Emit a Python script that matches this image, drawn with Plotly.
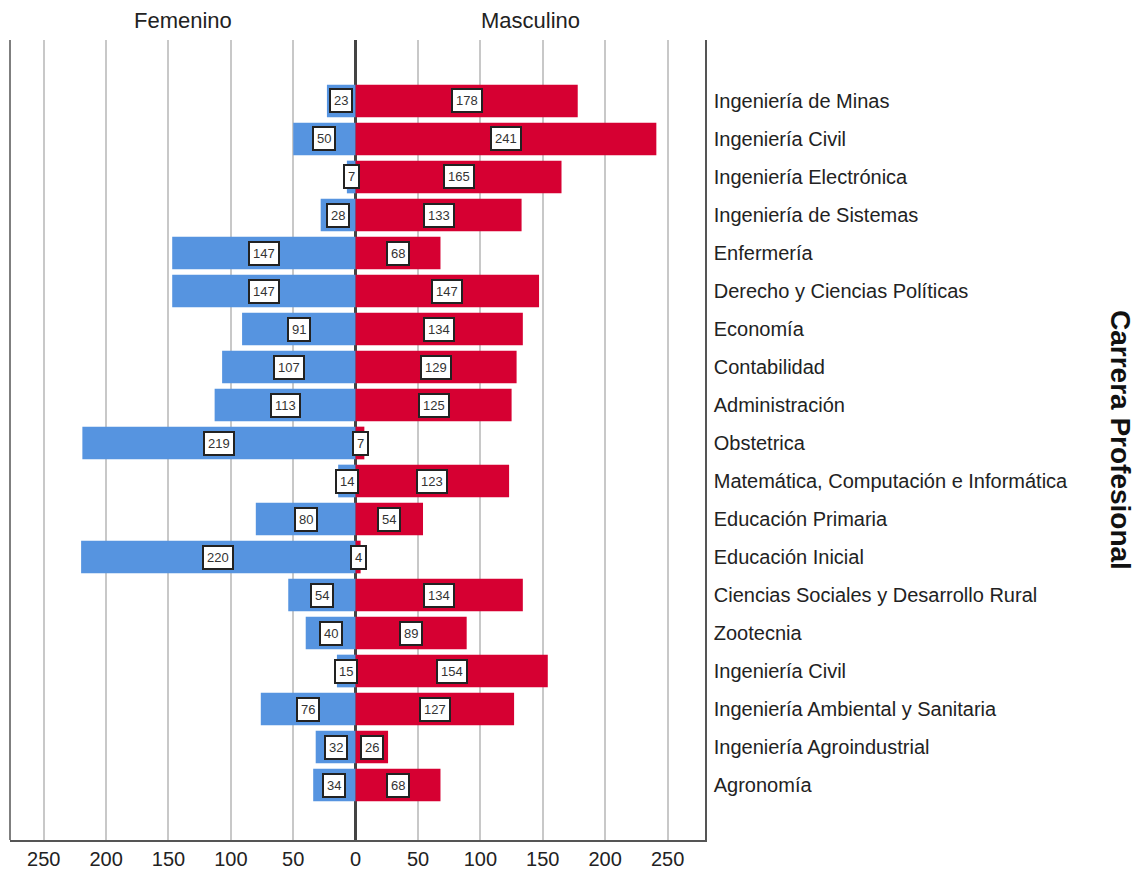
import plotly.graph_objects as go

categories = [
    "Ingeniería de Minas", "Ingeniería Civil", "Ingeniería Electrónica",
    "Ingeniería de Sistemas", "Enfermería", "Derecho y Ciencias Políticas",
    "Economía", "Contabilidad", "Administración", "Obstetrica",
    "Matemática, Computación e Informática", "Educación Primaria",
    "Educación Inicial", "Ciencias Sociales y Desarrollo Rural", "Zootecnia",
    "Ingeniería Civil", "Ingeniería Ambiental y Sanitaria",
    "Ingeniería Agroindustrial", "Agronomía",
]
femenino = [23, 50, 7, 28, 147, 147, 91, 107, 113, 219, 14, 80, 220, 54, 40, 15, 76, 32, 34]
masculino = [178, 241, 165, 133, 68, 147, 134, 129, 125, 7, 123, 54, 4, 134, 89, 154, 127, 26, 68]
tick_vals = [-250, -200, -150, -100, -50, 0, 50, 100, 150, 200, 250]
tick_text = ["250", "200", "150", "100", "50", "0", "50", "100", "150", "200", "250"]

BLUE = "#5694E0"
RED = "#D60032"
FONT = "Liberation Sans, Arial, sans-serif"

ypos = list(range(len(categories)))

fig = go.Figure()
fig.add_trace(go.Bar(
    y=ypos, x=[-v for v in femenino], orientation="h", name="Femenino",
    marker=dict(color=BLUE, line=dict(width=0)), width=0.86,
    hoverinfo="skip",
))
fig.add_trace(go.Bar(
    y=ypos, x=masculino, orientation="h", name="Masculino",
    marker=dict(color=RED, line=dict(width=0)), width=0.86,
    hoverinfo="skip",
))

annotations = []
for i, (f, m) in enumerate(zip(femenino, masculino)):
    for xv, v in ((-f / 2, f), (m / 2, m)):
        annotations.append(dict(
            x=xv, y=i, xref="x", yref="y", text=str(v), showarrow=False,
            xanchor="center", yanchor="middle",
            font=dict(family=FONT, size=13, color="#333333"),
            bgcolor="white", bordercolor="#222222", borderwidth=2, borderpad=3,
        ))

W, H = 1140, 875
L, R, T, B = 10, 435, 40, 35
pw, ph = W - L - R, H - T - B

def px_x(x):
    return (x - L) / pw

def px_y(y):
    return 1 - (y - T) / ph

annotations += [
    dict(x=px_x(183), y=px_y(20), xref="paper", yref="paper", text="Femenino",
         showarrow=False, xanchor="center", yanchor="middle",
         font=dict(family=FONT, size=22, color="#222222")),
    dict(x=px_x(530), y=px_y(20), xref="paper", yref="paper", text="Masculino",
         showarrow=False, xanchor="center", yanchor="middle",
         font=dict(family=FONT, size=22, color="#222222")),
    dict(x=px_x(1121), y=px_y(440), xref="paper", yref="paper",
         text="<b>Carrera Profesional</b>", showarrow=False, textangle=90,
         xanchor="center", yanchor="middle",
         font=dict(family=FONT, size=28, color="#111111")),
]

fig.update_layout(
    width=W, height=H,
    margin=dict(l=L, r=R, t=T, b=B, autoexpand=False),
    paper_bgcolor="white", plot_bgcolor="white",
    barmode="relative", showlegend=False,
    annotations=annotations,
    font=dict(family=FONT),
    xaxis=dict(
        range=[-277, 280], tickvals=tick_vals, ticktext=tick_text,
        showgrid=True, gridcolor="#c8c8c8", gridwidth=1.5,
        zeroline=True, zerolinecolor="#444444", zerolinewidth=2.5,
        showline=True, linecolor="#555555", linewidth=1.5,
        ticks="", tickfont=dict(size=20, color="#222222", family=FONT),
        fixedrange=True, automargin=False,
    ),
    yaxis=dict(
        range=[18 + 1.447, -1.605], tickvals=ypos, ticktext=categories,
        side="right", showgrid=False, zeroline=False,
        showline=True, linecolor="#555555", linewidth=1.5,
        ticks="", ticklabelstandoff=3,
        tickfont=dict(size=20, color="#222222", family=FONT),
        fixedrange=True, automargin=False,
    ),
    shapes=[dict(type="line", xref="paper", yref="paper", x0=0, x1=0, y0=0, y1=1,
                 line=dict(color="#555555", width=1.5))],
)

fig.write_html(
    "out.html",
    config={"displayModeBar": False},
    post_script="document.body.style.margin='0';document.body.style.overflow='hidden';",
)
